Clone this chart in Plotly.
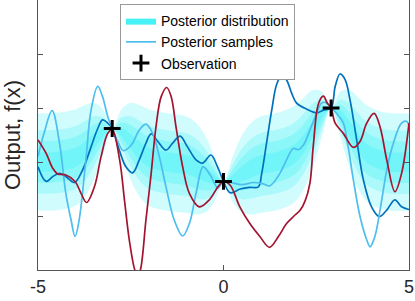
import plotly.graph_objects as go

# ---- data ----
obs_x = [-3.0, 0.0, 2.9]
obs_y = [0.62, -0.36, 1.0]

band_x = [-5, -4.5, -4, -3.75, -3.5, -3.25, -3, -2.75, -2.5, -2.25, -2, -1.5, -1, -0.75,
          -0.5, -0.25, 0, 0.25, 0.5, 0.75, 1, 1.5, 1.9, 2.15, 2.4, 2.65, 2.9, 3.15, 3.4,
          3.65, 3.9, 4.4, 5]
band_mean = [0, 0.01, 0.08, 0.2, 0.38, 0.55, 0.62, 0.55, 0.38, 0.2, 0.08, 0, -0.05, -0.12,
             -0.22, -0.32, -0.36, -0.32, -0.22, -0.12, -0.05, 0.02, 0.14, 0.33, 0.61, 0.88,
             1.0, 0.88, 0.61, 0.33, 0.14, 0.01, 0]
band_std = [0.46, 0.46, 0.456, 0.435, 0.366, 0.216, 0.0, 0.216, 0.366, 0.435, 0.456, 0.46,
            0.456, 0.435, 0.366, 0.216, 0.0, 0.216, 0.366, 0.435, 0.456, 0.46, 0.456, 0.435,
            0.366, 0.216, 0.0, 0.216, 0.366, 0.435, 0.456, 0.46, 0.46]
band_levels = [1.96, 1.28, 0.84, 0.39]

s1_x = [-5, -4.78, -4.6, -4.42, -4.25, -4.02, -3.8, -3.57, -3.39, -3.26, -3.12, -3, -2.81,
        -2.63, -2.45, -2.27, -2.09, -1.95, -1.77, -1.55, -1.37, -1.17, -0.97, -0.74, -0.56,
        -0.34, -0.16, 0, 0.18, 0.45, 0.7, 0.94, 1.03, 1.16, 1.3, 1.43, 1.57, 1.7, 1.84, 1.97,
        2.24, 2.51, 2.69, 2.9, 3.01, 3.14, 3.28, 3.41, 3.59, 3.77, 3.99, 4.2, 4.4, 4.62, 4.8, 5]
s1_y = [-0.09, -0.36, -0.27, -0.21, -0.27, -0.38, -0.15, 0.28, 0.62, 0.78, 0.72, 0.62, 0.22,
        -0.09, -0.2, 0.04, 0.35, 0.52, 0.38, 0.22, 0.35, 0.48, 0.28, 0.04, -0.02,
        0.13, -0.09, -0.36, -0.57, -0.5, -0.47, -0.46, -0.21, 0.35, 0.96, 1.43, 1.61, 1.52, 1.27, 1.09,
        0.98, 0.91, 0.96, 1.0, 1.4, 1.63, 1.52, 1.15, 0.41, -0.33, -0.83, -1.01, -0.89, -0.7, -0.83, -0.88]

s2_x = [-5, -4.83, -4.62, -4.42, -4.25, -4.11, -4.0, -3.89, -3.71, -3.57, -3.39, -3.26, -3.12,
        -3.0, -2.85, -2.7, -2.49, -2.27, -2.09, -1.91, -1.73, -1.55, -1.33, -1.1, -0.92, -0.74,
        -0.55, -0.35, -0.15, 0, 0.2, 0.5, 0.8, 1.05, 1.25, 1.52, 1.7, 1.88, 2.02, 2.15, 2.33,
        2.51, 2.64, 2.76, 2.9, 3.05, 3.23, 3.36, 3.5, 3.68, 3.86, 3.95, 4.08, 4.22, 4.4, 4.58,
        4.8, 4.94, 5]
s2_y = [0.1, 0.55, 0.95, 0.35, -0.58, -1.07, -1.38, -1.07, 0.04, 0.96, 1.4, 1.21, 0.84,
        0.62, 0.38, 0.21, 0.31, 0.59, 0.7, 0.53, 0.1, -0.46, -1.07, -1.37, -1.14, -0.58,
        -0.09, -0.25, -0.48, -0.36, -0.38, -0.42, -0.38, -0.4, -0.44, -0.21, 0.04, 0.25, 0.23, 0.31, 0.59,
        0.9, 1.09, 1.1, 1.0, 0.9, 0.72, 0.28, -0.33, -1.01, -1.44, -1.57, -1.38, -0.89, -0.15, 0.35,
        0.72, 0.75, 0.66]

s3_x = [-5, -4.78, -4.6, -4.47, -4.25, -4.0, -3.84, -3.69, -3.48, -3.3, -3.12, -3.0, -2.8,
        -2.67, -2.54, -2.39, -2.31, -2.24, -2.09, -1.95, -1.82, -1.68, -1.53, -1.41, -1.28,
        -1.1, -0.92, -0.65, -0.38, -0.15, 0, 0.18, 0.44, 0.71, 0.98, 1.24, 1.48, 1.7, 1.9,
        2.06, 2.2, 2.33, 2.42, 2.56, 2.69, 2.8, 2.9, 3.01, 3.23, 3.5, 3.68, 3.86, 4.06, 4.22,
        4.4, 4.62, 4.8, 5]
s3_y = [0.41, 0.16, -0.12, -0.22, -0.24, -0.36, -0.58, -0.75, -0.46, 0.1, 0.53, 0.6, 0.04,
        -0.7, -1.44, -2.0, -2.1, -2.0, -1.07, -0.21, 0.65, 1.21, 1.38, 1.21, 0.65,
        -0.09, -0.58, -0.83, -0.7, -0.46, -0.36, -0.43, -0.83, -1.14, -1.38, -1.58, -1.38, -1.14, -1.0,
        -0.9, -0.72, -0.39, 0.3, 1.08, 1.22, 1.09, 1.0, 0.72, 0.53, 0.27, 0.38, 0.72, 0.9, 0.65,
        0.04, -0.55, -0.21, 0.72]

x_ticks = [-5, 0, 5]
y_ticks = [-2, -1, 0, 1, 2, 3]

C_DARK = "#0072BD"
C_LIGHT = "#4DBEEE"
C_RED = "#A2142F"
FILL = "rgba(0,240,245,0.18)"
FONT = "Liberation Sans, Arial, sans-serif"

fig = go.Figure()

for z in band_levels:
    lo = [m - z * s for m, s in zip(band_mean, band_std)]
    hi = [m + z * s for m, s in zip(band_mean, band_std)]
    fig.add_trace(go.Scatter(x=band_x, y=lo, mode="lines", line=dict(width=0, shape="spline"),
                             showlegend=False, hoverinfo="skip"))
    fig.add_trace(go.Scatter(x=band_x, y=hi, mode="lines", line=dict(width=0, shape="spline"),
                             fill="tonexty", fillcolor=FILL, showlegend=False, hoverinfo="skip"))

# legend-only patch for the distribution
fig.add_trace(go.Scatter(x=[None], y=[None], mode="lines", fill="toself",
                         fillcolor="rgba(70,242,246,1)", line=dict(width=0, color="rgba(70,242,246,1)"),
                         name="Posterior distribution", legendrank=1))

fig.add_trace(go.Scatter(x=s1_x, y=s1_y, mode="lines", line=dict(color=C_DARK, width=1.7, shape="spline"),
                         showlegend=False))
fig.add_trace(go.Scatter(x=s2_x, y=s2_y, mode="lines", line=dict(color=C_LIGHT, width=1.7, shape="spline"),
                         name="Posterior samples", legendrank=2))
fig.add_trace(go.Scatter(x=s3_x, y=s3_y, mode="lines", line=dict(color=C_RED, width=1.7, shape="spline"),
                         showlegend=False))

fig.add_trace(go.Scatter(x=obs_x, y=obs_y, mode="markers",
                         marker=dict(symbol="cross-thin", size=12, color="black",
                                     line=dict(width=3, color="black")),
                         name="Observation", legendrank=3))

fig.update_layout(
    width=415, height=301,
    margin=dict(l=38, r=6, t=0, b=31),
    paper_bgcolor="white", plot_bgcolor="white",
    font=dict(family=FONT, color="#262626"),
    legend=dict(x=0.221, y=0.985, xanchor="left", yanchor="top", traceorder="normal",
                bgcolor="white", bordercolor="#999999", borderwidth=1,
                font=dict(size=14, color="black", family=FONT),
                tracegroupgap=0),
)
fig.update_xaxes(range=[-5, 5], tickvals=x_ticks, ticktext=[str(v) for v in x_ticks],
                 ticks="inside", ticklen=5, tickcolor="#555555",
                 showline=True, linecolor="#555555", linewidth=1, mirror=False,
                 showgrid=False, zeroline=False, tickfont=dict(size=18, color="#262626"))
fig.update_yaxes(range=[-2, 3], tickvals=y_ticks, showticklabels=False,
                 ticks="inside", ticklen=5, tickcolor="#555555",
                 showline=True, linecolor="#555555", linewidth=1, mirror="ticks",
                 showgrid=False, zeroline=False,
                 title=dict(text="Output, f(x)", font=dict(size=22, color="#262626"), standoff=10))

fig.write_html("out.html", config={"displayModeBar": False},
               post_script="document.body.style.margin='0px';")
